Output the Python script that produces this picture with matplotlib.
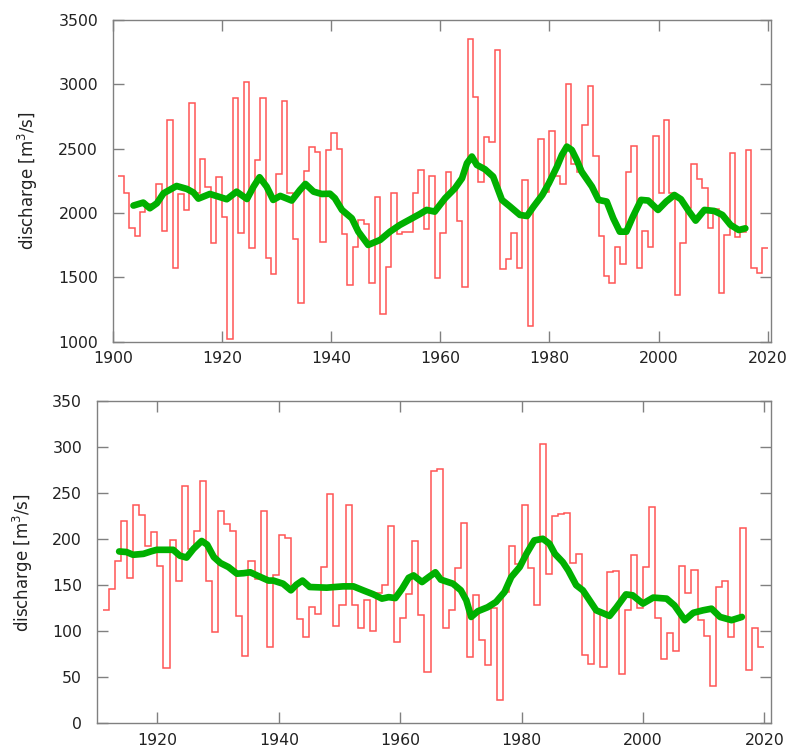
import numpy as np
import matplotlib
matplotlib.use("Agg")
import matplotlib.pyplot as plt

# top panel: yearly discharge, 1901-2019
top_years = list(range(1901, 2020))
top_q = [2291, 2159, 1884, 1822, 2008, 2071, 2071, 2223, 1863, 2721,
         1570, 2146, 2021, 2856, 2153, 2420, 2200, 1767, 2278, 1967,
         1018, 2892, 1845, 3019, 1728, 2413, 2892, 1648, 1526, 2306,
         2874, 2159, 1801, 1303, 2325, 2516, 2472, 1778, 2493, 2625,
         2501, 1834, 1438, 1734, 1946, 1912, 1454, 2122, 1218, 1578,
         2153, 1837, 1855, 1855, 2159, 2332, 1879, 2291, 1492, 1847,
         2317, 2180, 1938, 1425, 3356, 2905, 2244, 2589, 2550, 3263,
         1565, 1640, 1842, 1570, 2255, 1122, 2073, 2579, 2166, 2638,
         2291, 2223, 3004, 2379, 2317, 2685, 2988, 2444, 1822, 1513,
         1454, 1734, 1601, 2317, 2522, 1575, 1861, 1739, 2599, 2153,
         2721, 2153, 1363, 1767, 2042, 2379, 2262, 2192, 1881, 2029,
         1376, 1829, 2467, 1814, 1855, 2488, 1575, 1531, 1726]

# top panel: smoothed curve
top_smooth_x = [1903.8, 1905.6, 1906.8, 1908.1, 1909.3, 1911.7, 1913.6, 1914.8, 1915.7,
                1917.8, 1919.4, 1920.9, 1922.7, 1924.6, 1925.8, 1926.9, 1928.2, 1929.4,
                1930.7, 1932.8, 1934.3, 1935.3, 1936.8, 1938.3, 1939.8, 1940.7, 1942.0,
                1943.8, 1945.0, 1946.8, 1949.0, 1950.8, 1952.6, 1954.5, 1956.3, 1957.5,
                1959.0, 1960.9, 1962.7, 1964.0, 1964.9, 1965.8, 1966.7, 1968.2, 1969.7,
                1971.3, 1972.8, 1974.6, 1975.9, 1977.1, 1978.7, 1979.9, 1981.4, 1982.3,
                1983.2, 1984.1, 1985.0, 1985.9, 1987.8, 1989.0, 1990.5, 1991.7, 1992.9,
                1994.1, 1995.3, 1996.8, 1998.1, 1999.9, 2001.4, 2002.9, 2004.1, 2005.6,
                2006.8, 2008.4, 2010.2, 2011.7, 2013.2, 2014.7, 2015.9]
top_smooth_y = [2058, 2081, 2037, 2076, 2153, 2210, 2187, 2159, 2112,
                2148, 2127, 2107, 2166, 2109, 2205, 2278, 2205, 2102,
                2133, 2097, 2179, 2226, 2166, 2148, 2150, 2115, 2024,
                1959, 1855, 1752, 1791, 1855, 1907, 1951, 1993, 2024,
                2011, 2115, 2192, 2270, 2387, 2439, 2374, 2340, 2283,
                2102, 2050, 1985, 1977, 2050, 2140, 2231, 2361, 2452,
                2516, 2490, 2413, 2322, 2205, 2102, 2089, 1959, 1855,
                1855, 1972, 2102, 2097, 2024, 2089, 2140, 2107, 2011,
                1941, 2024, 2016, 1985, 1907, 1868, 1881]

# bottom panel: yearly discharge, 1911-2019
bot_years = list(range(1911, 2020))
bot_q = [123, 146, 176, 220, 158, 237, 226, 192, 208, 171,
         60, 199, 154, 258, 189, 209, 263, 155, 99, 231,
         216, 209, 116, 73, 176, 157, 231, 83, 161, 205,
         201, 148, 113, 94, 126, 119, 170, 249, 106, 128,
         237, 129, 104, 134, 100, 141, 150, 214, 88, 114,
         140, 198, 118, 56, 274, 276, 104, 123, 169, 218,
         72, 139, 91, 63, 125, 25, 143, 193, 173, 237,
         169, 128, 303, 162, 225, 227, 228, 174, 184, 74,
         64, 122, 61, 164, 165, 53, 123, 183, 125, 170,
         235, 114, 70, 98, 78, 171, 142, 166, 112, 95,
         40, 148, 154, 94, 112, 212, 58, 104, 83]

bot_smooth_x = [1913.7, 1914.9, 1916.0, 1917.7, 1919.1, 1919.9, 1922.6, 1923.7, 1924.8,
                1925.95, 1927.3, 1928.2, 1929.3, 1930.4, 1931.7, 1933.1, 1934.2, 1935.3,
                1936.4, 1938.3, 1939.1, 1940.7, 1942.0, 1942.9, 1943.9, 1945.1, 1947.9,
                1950.6, 1952.3, 1953.9, 1955.6, 1957.0, 1958.1, 1959.2, 1960.3, 1961.4,
                1962.2, 1963.6, 1964.7, 1965.8, 1966.7, 1968.7, 1970.0, 1970.9, 1971.7,
                1972.8, 1974.4, 1975.8, 1977.2, 1978.3, 1979.7, 1980.8, 1982.1, 1983.5,
                1984.6, 1985.5, 1986.8, 1987.7, 1989.0, 1990.1, 1991.2, 1992.3, 1994.5,
                1995.6, 1997.2, 1998.3, 2000.0, 2001.7, 2003.9, 2005.2, 2006.9, 2008.3,
                2009.9, 2011.3, 2012.7, 2014.6, 2016.3]
bot_smooth_y = [186.6, 186, 183, 184, 187, 188.4, 188.4, 182, 180,
                189.5, 198, 194, 180.5, 174, 169.7, 162.5, 163, 164,
                160.6, 155, 155, 151.6, 144.4, 150.5, 155, 148, 147.3,
                148.7, 148.7, 144.4, 140, 135.4, 137, 136, 146, 158,
                160.6, 153.4, 158.8, 164, 156, 151.6, 144.4, 133.6, 115.5,
                121.7, 126, 131.8, 142.6, 158.8, 169.7, 184, 198.6, 200.4,
                195, 184, 175, 166, 150, 144.4, 133.6, 122.7, 116.6,
                125.6, 140, 139, 130, 136.5, 135.4, 128, 112, 120,
                122.7, 124.5, 115.5, 112, 115.5]

RED = "#ff2a2a"
GREEN = "#00b000"
FRAME = "#808080"


def style_axes(ax):
    for s in ax.spines.values():
        s.set_color(FRAME)
        s.set_linewidth(1.0)
    ax.tick_params(direction="in", length=8, width=1.0, color=FRAME,
                   top=True, right=True, labelsize=11.3, labelcolor="#222222")
    ax.tick_params(axis="y", pad=10.5)
    ax.tick_params(axis="x", pad=7)


def draw_panel(ax, years, q, sx, sy):
    edges = np.append(np.array(years, dtype=float), years[-1] + 1)
    ax.stairs(q, edges, baseline=None, color=RED, lw=1.1, alpha=0.8)
    ax.plot(sx, sy, color=GREEN, lw=4.8, solid_capstyle="round",
            solid_joinstyle="round")


fig = plt.figure(figsize=(7.88, 7.53), dpi=100)

ax1 = fig.add_axes([112.7 / 788, 1 - 341.7 / 753, 658.3 / 788, 321.7 / 753])
draw_panel(ax1, top_years, top_q, top_smooth_x, top_smooth_y)
ax1.set_xlim(1900, 2020.6)
ax1.set_ylim(1000, 3500)
ax1.set_xticks(range(1900, 2021, 20))
ax1.set_yticks(range(1000, 3501, 500))
style_axes(ax1)
ax1.set_ylabel("discharge [m$^{3}$/s]", fontsize=12, color="#222222")
ax1.yaxis.set_label_coords(-0.110, 0.5)

ax2 = fig.add_axes([96.7 / 788, 1 - 723.3 / 753, 674.3 / 788, 322.3 / 753])
draw_panel(ax2, bot_years, bot_q, bot_smooth_x, bot_smooth_y)
ax2.set_xlim(1910, 2021.1)
ax2.set_ylim(0, 350)
ax2.set_xticks(range(1920, 2021, 20))
ax2.set_yticks(range(0, 351, 50))
style_axes(ax2)
ax2.set_ylabel("discharge [m$^{3}$/s]", fontsize=12, color="#222222")
ax2.yaxis.set_label_coords(-0.0915, 0.5)

fig.savefig("out.png", dpi=100)
